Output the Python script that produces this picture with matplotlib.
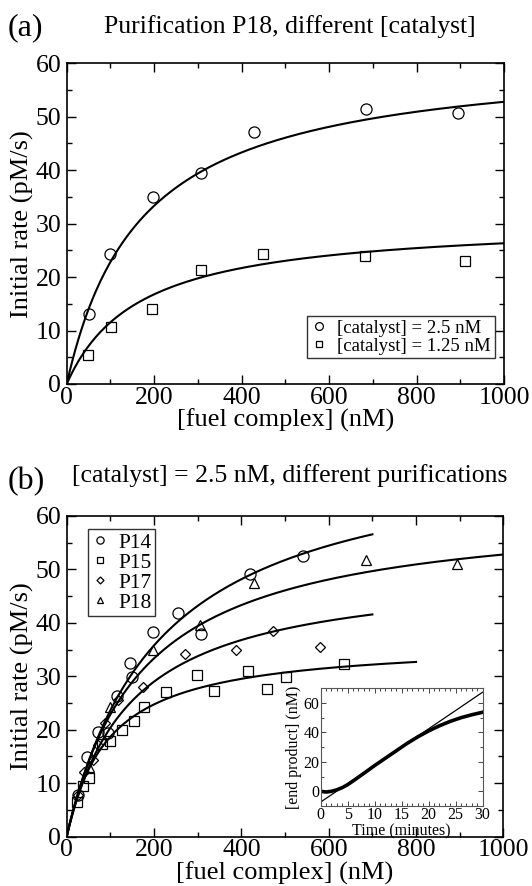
import numpy as np
import matplotlib
matplotlib.use("Agg")
import matplotlib.pyplot as plt
from matplotlib.ticker import MultipleLocator

plt.rcParams['font.family'] = ['Liberation Serif', 'DejaVu Serif']

# ---------------- data: panel (a) ----------------
a_cat25_x = [51, 100, 197, 306, 428, 685, 894]
a_cat25_y = [13.1, 24.3, 35.0, 39.4, 47.2, 51.4, 50.7]
a_cat125_x = [49, 102, 195, 306, 450, 683, 911]
a_cat125_y = [5.4, 10.6, 14.0, 21.3, 24.4, 23.9, 23.0]
a_fit_vmax = [61.8, 30.7]
a_fit_km = [170.6, 165.9]
a_fit_xmax = [1000, 1000]
a_labels = ['[catalyst] = 2.5 nM', '[catalyst] = 1.25 nM']

# ---------------- data: panel (b) ----------------
p14_x = [27, 46, 72, 94, 115, 146, 150, 198, 254, 307, 420, 541]
p14_y = [7.8, 14.8, 19.5, 19.3, 26.3, 32.4, 29.9, 38.2, 41.8, 38.0, 49.1, 52.6]
p15_x = [23, 38, 52, 80, 99, 126, 154, 177, 227, 298, 337, 415, 459, 503, 635]
p15_y = [6.5, 9.5, 11.0, 17.4, 17.9, 19.9, 21.7, 24.3, 27.1, 30.2, 27.2, 30.9, 27.6, 29.9, 32.2]
p17_x = [27, 40, 61, 71, 88, 118, 174, 270, 387, 473, 580]
p17_y = [7.8, 12.1, 14.3, 17.1, 21.2, 25.6, 27.9, 34.1, 34.9, 38.4, 35.4]
p18_x = [51, 100, 197, 306, 428, 685, 894]
p18_y = [13.1, 24.3, 35.0, 39.6, 47.4, 51.7, 51.0]
b_labels = ['P14', 'P15', 'P17', 'P18']
b_fit_vmax = [73.7, 36.6, 50.3, 61.8]
b_fit_km = [212.0, 96.0, 147.0, 170.6]
b_fit_xmax = [700, 800, 700, 1000]

# ---------------- data: inset ----------------
inset_t = [0, 1, 2, 3, 4, 5, 6, 8, 10, 12, 14, 16, 18, 20, 22, 24, 26, 28, 30]
inset_prod = [0.0, -0.5, 0.0, 1.0, 2.5, 4.5, 7.0, 12.2, 17.5, 22.5, 27.5, 32.5, 37.0, 41.0,
              44.5, 47.5, 50.0, 52.0, 53.7]
inset_lin_t = [0, 30]
inset_lin_y = [-7.3, 67.3]

W, H = 532, 886
fig = plt.figure(figsize=(W / 100, H / 100), dpi=100)


def style_axes(ax):
    ax.set_xlim(0, 1000)
    ax.set_ylim(0, 60)
    ax.xaxis.set_major_locator(MultipleLocator(200))
    ax.xaxis.set_minor_locator(MultipleLocator(100))
    ax.yaxis.set_major_locator(MultipleLocator(10))
    ax.yaxis.set_minor_locator(MultipleLocator(5))
    ax.tick_params(which='both', direction='in', top=True, right=True, width=1.0)
    ax.tick_params(which='major', length=6.5, labelsize=18.5, pad=2)
    ax.tick_params(axis='y', which='major', pad=4)
    ax.tick_params(which='minor', length=3.5)
    for s in ax.spines.values():
        s.set_linewidth(1.2)
    ax.set_xlabel('[fuel complex] (nM)', fontsize=19, labelpad=0)
    ax.set_ylabel('Initial rate (pM/s)', fontsize=19, labelpad=1)


mk = dict(mfc='none', mec='black', mew=0.9, ls='none')

# ---------------- panel (a) ----------------
axa = fig.add_axes([66.7 / W, 1 - 384 / H, (504 - 66.7) / W, (384 - 63.3) / H])
style_axes(axa)
axa.plot(a_cat25_x, a_cat25_y, marker='o', ms=8, label=a_labels[0], **mk)
axa.plot(a_cat125_x, a_cat125_y, marker='s', ms=7, label=a_labels[1], **mk)
for vm, km, xm in zip(a_fit_vmax, a_fit_km, a_fit_xmax):
    xs = np.linspace(0, xm, 300)
    axa.plot(xs, vm * xs / (km + xs), color='black', lw=1.5)
leg = axa.legend(loc='upper left', bbox_to_anchor=(0.550, 0.213), fontsize=13.5,
                 frameon=True, fancybox=False, edgecolor='black', markerscale=0.7,
                 handlelength=0.9, handletextpad=0.5, borderpad=0.2,
                 labelspacing=0.05, borderaxespad=0)
leg.get_frame().set_linewidth(1.0)
fig.text(8 / W, 1 - 28 / H, '(a)', fontsize=23, va='center', ha='left')
fig.text(290 / W, 1 - 27 / H, 'Purification P18, different [catalyst]', fontsize=18.5,
         va='center', ha='center')

# ---------------- panel (b) ----------------
axb = fig.add_axes([66.7 / W, 1 - 836.5 / H, (503.4 - 66.7) / W, (836.5 - 516) / H])
style_axes(axb)
markers = ['o', 's', 'D', '^']
sizes = [8, 7, 5.5, 7.5]
xsets = [p14_x, p15_x, p17_x, p18_x]
ysets = [p14_y, p15_y, p17_y, p18_y]
for xv, yv, m, s, lab in zip(xsets, ysets, markers, sizes, b_labels):
    axb.plot(xv, yv, marker=m, ms=s, label=lab, **mk)
for vm, km, xm in zip(b_fit_vmax, b_fit_km, b_fit_xmax):
    xs = np.linspace(0, xm, 300)
    axb.plot(xs, vm * xs / (km + xs), color='black', lw=1.5)
legb = axb.legend(loc='upper left', bbox_to_anchor=(0.0495, 0.9585), fontsize=15.5,
                  frameon=True, fancybox=False, edgecolor='black', markerscale=0.65,
                  handlelength=0.8, handletextpad=0.45, borderpad=0.15,
                  labelspacing=0.0, borderaxespad=0)
legb.get_frame().set_linewidth(1.0)
fig.text(8 / W, 1 - 482 / H, '(b)', fontsize=23, va='center', ha='left')
fig.text(290 / W, 1 - 476 / H, '[catalyst] = 2.5 nM, different purifications',
         fontsize=18.5, va='center', ha='center')

# ---------------- inset ----------------
axi = fig.add_axes([320.7 / W, 1 - 806 / H, (482.5 - 320.7) / W, (806 - 688.3) / H])
axi.set_xlim(0, 30)
axi.set_ylim(-10, 70)
axi.xaxis.set_major_locator(MultipleLocator(5))
axi.xaxis.set_minor_locator(MultipleLocator(1))
axi.yaxis.set_major_locator(MultipleLocator(20))
axi.yaxis.set_minor_locator(MultipleLocator(10))
axi.tick_params(which='both', direction='in', top=True, right=True, width=0.7,
                color='#444444')
axi.tick_params(which='major', length=3.5, labelsize=11.5, pad=1)
axi.tick_params(which='minor', length=2)
for s in axi.spines.values():
    s.set_linewidth(0.8)
    s.set_color('#555555')
axi.plot(inset_lin_t, inset_lin_y, color='black', lw=0.9)
axi.plot(inset_t, inset_prod, color='black', lw=2.6)
axi.set_xlabel('Time (minutes)', fontsize=11.5, labelpad=0)
axi.set_ylabel('[end product] (nM)', fontsize=11.5, labelpad=1)

fig.savefig('out.png', dpi=100)
